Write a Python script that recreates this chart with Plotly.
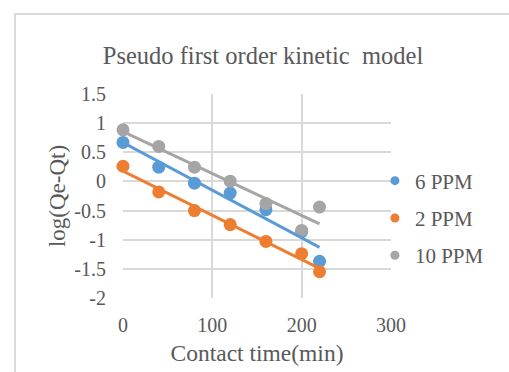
import numpy as np
import plotly.graph_objects as go

# Contact time (min)
time_min = [0, 40, 80, 120, 160, 200, 220]

# log(Qe - Qt) for each initial concentration
series_names = ["6 PPM", "2 PPM", "10 PPM"]
ppm6 = [0.67, 0.245, -0.03, -0.20, -0.485, -0.86, -1.37]
ppm2 = [0.26, -0.18, -0.50, -0.74, -1.03, -1.24, -1.55]
ppm10 = [0.885, 0.60, 0.245, 0.005, -0.38, -0.84, -0.44]
series_values = [ppm6, ppm2, ppm10]
series_colors = ["#5B9BD5", "#ED7D31", "#A5A5A5"]

y_ticks = [1.5, 1, 0.5, 0, -0.5, -1, -1.5, -2]
y_tick_text = ["1.5", "1", "0.5", "0", "-0.5", "-1", "-1.5", "-2"]
x_ticks = [0, 100, 200, 300]

FONT = "Liberation Serif"
TEXT = "#595959"
GRID = "#d9d9d9"

fig = go.Figure()

# measured points
for name, vals, col in zip(series_names, series_values, series_colors):
    fig.add_trace(go.Scatter(
        x=time_min, y=vals, mode="markers", name=name, showlegend=False,
        marker=dict(size=13, color=col), cliponaxis=False))

# linear trendlines fitted to each series
for name, vals, col in zip(series_names, series_values, series_colors):
    slope, intercept = np.polyfit(time_min, vals, 1)
    xs = [time_min[0], time_min[-1]]
    fig.add_trace(go.Scatter(
        x=xs, y=[intercept + slope * v for v in xs], mode="lines",
        showlegend=False, hoverinfo="skip",
        line=dict(color=col, width=3)))

# legend entries
for i, (name, col) in enumerate(zip(series_names, series_colors)):
    fig.add_trace(go.Scatter(
        x=[None], y=[None], mode="markers", name=name, legendgroup=f"g{i}",
        marker=dict(size=9, color=col)))

fig.update_layout(
    width=509, height=372,
    margin=dict(l=123, r=118, t=94, b=74),
    paper_bgcolor="white", plot_bgcolor="white",
    font=dict(family=FONT, color=TEXT, size=20),
    title=dict(text="Pseudo first order kinetic\u00a0 model",
               x=263 / 509, xref="container", xanchor="center",
               y=1 - 55 / 372, yref="container", yanchor="middle",
               font=dict(family=FONT, size=24.5, color=TEXT)),
    legend=dict(x=0.94, xanchor="left", y=0.392, yanchor="middle",
                font=dict(family=FONT, size=21, color=TEXT),
                tracegroupgap=7, bgcolor="rgba(0,0,0,0)",
                itemclick=False),
    xaxis=dict(range=[0, 300], tickvals=x_ticks, showgrid=True,
               gridcolor=GRID, gridwidth=2, zeroline=False, showline=False,
               ticks="", ticklabelstandoff=13,
               title=dict(text="Contact time(min)", standoff=9,
                          font=dict(family=FONT, size=23.5, color=TEXT))),
    yaxis=dict(range=[-2, 1.5], tickvals=y_ticks, ticktext=y_tick_text,
               showgrid=True, gridcolor=GRID, gridwidth=2, zeroline=False,
               showline=False, ticks="", ticklabelstandoff=16,
               title=dict(text="log(Qe-Qt)", standoff=2,
                          font=dict(family=FONT, size=23, color=TEXT))),
    shapes=[dict(type="rect", xref="paper", yref="paper",
                 x0=(15 - 123) / 268, x1=(540 - 123) / 268,
                 y0=(298 - 400) / 204, y1=(298 - 14) / 204,
                 line=dict(color=GRID, width=2), layer="below")],
)

fig.write_html("out.html")
